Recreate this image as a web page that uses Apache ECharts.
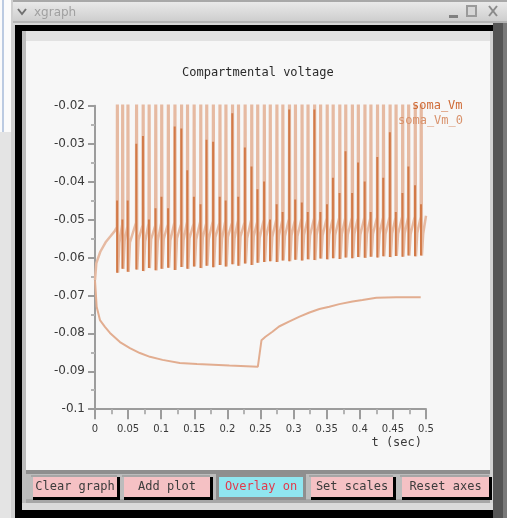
<!DOCTYPE html>
<html><head><meta charset="utf-8">
<script src="https://cdn.jsdelivr.net/npm/echarts@6/dist/echarts.min.js"></script>
<style>html,body{margin:0;padding:0;background:#f7f7f7;overflow:hidden}#c{width:507px;height:518px}</style>
</head><body><div id="c"></div>
<script>
// ---------- data ----------
const chartTitle = 'Compartmental voltage';
const windowTitle = 'xgraph';
const xAxisName = 't (sec)';
const seriesNames = ['soma_Vm', 'soma_Vm_0'];
const buttonLabels = ['Clear graph', 'Add plot', 'Overlay on', 'Set scales', 'Reset axes'];
const xTickLabels = ['0','0.05','0.1','0.15','0.2','0.25','0.3','0.35','0.4','0.45','0.5'];
const yTickLabels = ['-0.1','-0.09','-0.08','-0.07','-0.06','-0.05','-0.04','-0.03','-0.02'];

// initial depolarising rise before spiking (soma_Vm_0)
const riseT = [0, 0.002, 0.008, 0.016, 0.024, 0.030];
const riseV = [-0.066, -0.0615, -0.0585, -0.0560, -0.0543, -0.0530];

// spike onset times (s)
const spikeT = [0.033,0.041,0.049,0.062,0.072,0.081,0.091,0.100,0.110,0.120,
  0.130,0.139,0.149,0.159,0.168,0.178,0.188,0.197,0.207,0.216,
  0.226,0.236,0.245,0.255,0.264,0.274,0.283,0.293,0.302,0.312,
  0.321,0.331,0.340,0.350,0.359,0.369,0.378,0.388,0.397,0.407,
  0.416,0.426,0.435,0.445,0.454,0.464,0.473,0.483,0.492];
// voltage at spike onset (threshold)
const thresholdV = [-0.0520,-0.0512,-0.0518,-0.0508,-0.0515,-0.0510,-0.0516,-0.0509,-0.0513,-0.0507,
  -0.0512,-0.0506,-0.0511,-0.0505,-0.0510,-0.0504,-0.0509,-0.0503,-0.0508,-0.0502,
  -0.0507,-0.0501,-0.0506,-0.0500,-0.0503,-0.0499,-0.0502,-0.0498,-0.0501,-0.0497,
  -0.0500,-0.0496,-0.0499,-0.0496,-0.0498,-0.0495,-0.0497,-0.0495,-0.0496,-0.0494,
  -0.0496,-0.0494,-0.0495,-0.0493,-0.0495,-0.0493,-0.0494,-0.0492,-0.0493];
// after-hyperpolarisation trough
const troughV = [-0.0640,-0.0630,-0.0638,-0.0632,-0.0636,-0.0628,-0.0634,-0.0630,-0.0627,-0.0633,
  -0.0625,-0.0630,-0.0624,-0.0628,-0.0622,-0.0626,-0.0620,-0.0624,-0.0618,-0.0622,
  -0.0616,-0.0620,-0.0614,-0.0612,-0.0610,-0.0612,-0.0608,-0.0610,-0.0606,-0.0608,
  -0.0605,-0.0607,-0.0603,-0.0605,-0.0602,-0.0604,-0.0600,-0.0602,-0.0599,-0.0601,
  -0.0598,-0.0600,-0.0597,-0.0599,-0.0596,-0.0598,-0.0595,-0.0597,-0.0595];
// fast recovery level reached shortly after each trough
const recoveryV = [-0.0562,-0.0556,-0.0560,-0.0553,-0.0558,-0.0552,-0.0557,-0.0551,-0.0555,-0.0550,
  -0.0554,-0.0549,-0.0553,-0.0548,-0.0552,-0.0547,-0.0551,-0.0546,-0.0550,-0.0545,
  -0.0549,-0.0545,-0.0548,-0.0544,-0.0546,-0.0543,-0.0545,-0.0542,-0.0544,-0.0541,
  -0.0543,-0.0540,-0.0542,-0.0540,-0.0541,-0.0539,-0.0540,-0.0539,-0.0540,-0.0538,
  -0.0539,-0.0538,-0.0539,-0.0537,-0.0538,-0.0537,-0.0538,-0.0536,-0.0537];
// spike peak of soma_Vm_0 (goes off the top of the plot)
const spikePeakV = 0.03;
// sampled spike peaks of soma_Vm
const sampledPeakV = [-0.045,-0.050,-0.045,-0.030,-0.028,-0.050,-0.047,-0.044,-0.047,-0.0255,
  -0.026,-0.037,-0.044,-0.046,-0.029,-0.0295,-0.044,-0.045,-0.022,-0.044,
  -0.031,-0.036,-0.042,-0.040,-0.050,-0.046,-0.048,-0.021,-0.0447,-0.0455,
  -0.048,-0.021,-0.048,-0.046,-0.039,-0.043,-0.032,-0.043,-0.035,-0.040,
  -0.048,-0.0335,-0.039,-0.027,-0.048,-0.043,-0.036,-0.041,-0.046];
const endT = 0.5, endV = -0.049;

// hyperpolarised trace (soma_Vm_0, earlier run)
const lowT = [0,0.0025,0.0075,0.015,0.0226,0.0377,0.0527,0.0678,0.083,0.102,0.128,0.154,0.203,0.246,0.2485,
  0.2515,0.2575,0.268,0.278,0.293,0.309,0.324,0.339,0.354,0.369,0.389,0.404,0.425,0.455,0.492];
const lowV = [-0.066,-0.0730,-0.0765,-0.0783,-0.0799,-0.0823,-0.0839,-0.0852,-0.0862,-0.0870,-0.0878,-0.0881,-0.0885,-0.0888,-0.0888,
  -0.0818,-0.0809,-0.0796,-0.0782,-0.0769,-0.0756,-0.0745,-0.0736,-0.0730,-0.0723,-0.0716,-0.0712,-0.0706,-0.0705,-0.0705];

// ---------- build series data ----------
const lightData = riseT.map((t, i) => [t, riseV[i]]);
spikeT.forEach((t, i) => {
  lightData.push([t, thresholdV[i]]);
  lightData.push([t + 0.0007, spikePeakV]);
  lightData.push([t + 0.0018, troughV[i]]);
  lightData.push([t + 0.0038, recoveryV[i]]);
});
lightData.push([endT, endV]);

const darkData = [];
spikeT.forEach((t, i) => {
  darkData.push([t + 0.0004, troughV[i]]);
  darkData.push([t + 0.0004, sampledPeakV[i]]);
  darkData.push([t + 0.0004, '-']);
});

const lowData = lowT.map((t, i) => [t, lowV[i]]);

// ---------- window chrome (graphic) ----------
const MONO = '"DejaVu Sans Mono", monospace';
const g = [];
function rect(x, y, w, h, fill) { g.push({type:'rect', silent:true, z:0, shape:{x, y, width:w, height:h}, style:{fill}}); }
// desktop strip on the left
rect(0, 0, 13, 518, '#e4e4e4');
rect(0, 0, 13, 132, '#fbfbfb');
rect(2, 0, 2, 132, '#bccbe2');
rect(11, 0, 2, 518, '#cfcfcf');
// title bar
g.push({type:'rect', silent:true, shape:{x:13, y:0, width:494, height:23},
  style:{fill:{type:'linear', x:0, y:0, x2:0, y2:1, colorStops:[{offset:0, color:'#ececec'},{offset:1, color:'#cbcbcb'}]}}});
rect(13, 0, 494, 2, '#a8a8a8');
rect(13, 21, 494, 2, '#b4b4b4');
g.push({type:'polyline', silent:true, shape:{points:[[18,9],[22,14],[26,9]]}, style:{stroke:'#707070', lineWidth:2, fill:null}});
g.push({type:'text', silent:true, style:{text:windowTitle, x:34, y:13, font:'12px "DejaVu Sans"', fill:'#a0a0a0', verticalAlign:'middle', textVerticalAlign:'middle'}});
rect(449, 15, 9, 3, '#808080');
g.push({type:'rect', silent:true, shape:{x:467, y:6, width:9, height:10}, style:{fill:'#d6d6d6', stroke:'#9a9a9a', lineWidth:2}});
g.push({type:'line', silent:true, shape:{x1:489, y1:6, x2:497, y2:16}, style:{stroke:'#8a8a8a', lineWidth:2}});
g.push({type:'line', silent:true, shape:{x1:497, y1:6, x2:489, y2:16}, style:{stroke:'#8a8a8a', lineWidth:2}});
// frame
rect(13, 23, 494, 2, '#d6d6d6');
rect(13, 25, 2, 493, '#cfcfcf');
rect(15, 25, 480, 6, '#000000');
rect(15, 25, 7, 493, '#000000');
rect(22, 31, 4, 480, '#bdbdbd');
rect(26, 31, 464, 10, '#e2e2e2');
rect(490, 31, 3, 480, '#d2d2d2');
rect(493, 23, 14, 495, '#555555');
rect(503, 23, 4, 495, '#7a7a7a');
// button bar
rect(26, 470, 464, 4, '#8e8e8e');
rect(26, 474, 464, 25, '#bcbcbc');
rect(26, 499, 464, 4, '#a6a6a6');
rect(22, 503, 471, 7, '#dadada');
rect(15, 510, 478, 8, '#000000');
const btnX = [33, 124, 219, 311, 402];
const btnW = [84, 86, 84, 82, 87];
buttonLabels.forEach((label, i) => {
  const x = btnX[i], w = btnW[i];
  const active = i === 2;
  if (active) {
    rect(x - 3, 474, w + 6, 26, '#8f8f8f');
    rect(x, 477, w, 20, '#90e6f0');
  } else {
    rect(x - 2, 475, w + 2, 2, '#a5a5a5');
    rect(x, 477, w, 20, '#f5c1c4');
    rect(x + w, 477, 3, 23, '#000000');
    rect(x, 497, w + 3, 3, '#000000');
  }
  g.push({type:'text', silent:true, style:{text:label, x:x + w / 2, y:487, font:'12px ' + MONO,
    fill: active ? '#e23a4c' : '#3c3c3c', align:'center', textAlign:'center', verticalAlign:'middle', textVerticalAlign:'middle'}});
});

// ---------- chart ----------
const axisGray = '#9c9c9c';
const chart = echarts.init(document.getElementById('c'), null, {renderer:'canvas'});
chart.setOption({
  animation: false,
  backgroundColor: '#f7f7f7',
  title: {text: chartTitle, left: 182, top: 67, padding: 0,
    textStyle: {fontFamily: MONO, fontSize: 12, fontWeight: 'normal', color: '#2a2a2a'}},
  legend: [
    {data: [{name: seriesNames[0], textStyle: {color: '#cf6b37'}}], left: 407, top: 100, padding: 0,
      icon: 'none', itemWidth: 0, itemHeight: 0, selectedMode: false,
      textStyle: {fontFamily: MONO, fontSize: 12}},
    {data: [{name: seriesNames[1], textStyle: {color: '#d9936d'}}], left: 393, top: 115, padding: 0,
      icon: 'none', itemWidth: 0, itemHeight: 0, selectedMode: false,
      textStyle: {fontFamily: MONO, fontSize: 12}}
  ],
  grid: {left: 95, top: 105.7, width: 331, height: 303.5, containLabel: false},
  xAxis: {
    type: 'value', min: 0, max: 0.5, interval: 0.05,
    name: xAxisName, nameLocation: 'end', nameGap: -4,
    nameTextStyle: {fontFamily: MONO, fontSize: 12, color: '#3a3a3a', align: 'right', verticalAlign: 'top', padding: [28, 0, 0, 0]},
    axisLine: {lineStyle: {color: axisGray, width: 2}},
    axisTick: {length: 10, lineStyle: {color: axisGray, width: 2}},
    minorTick: {show: true, splitNumber: 2, length: 5, lineStyle: {color: '#b4b4b4', width: 2}},
    splitLine: {show: false},
    axisLabel: {margin: 15, color: '#3a3a3a', fontFamily: '"DejaVu Sans"', fontSize: 10,
      formatter: (v, i) => xTickLabels[i]}
  },
  yAxis: {
    type: 'value', min: -0.1, max: -0.02, interval: 0.01,
    axisLine: {show: true, lineStyle: {color: axisGray, width: 2}},
    axisTick: {show: true, length: 7, lineStyle: {color: axisGray, width: 2}},
    minorTick: {show: true, splitNumber: 2, length: 4, lineStyle: {color: '#b4b4b4', width: 2}},
    splitLine: {show: false},
    axisLabel: {margin: 10, color: '#3a3a3a', fontFamily: '"DejaVu Sans"', fontSize: 12,
      formatter: (v, i) => yTickLabels[i]}
  },
  series: [
    {name: seriesNames[1], type: 'line', data: lowData, showSymbol: false, symbol: 'none', z: 2,
      lineStyle: {color: '#e2ad90', width: 2}, itemStyle: {color: '#e2ad90'}},
    {name: seriesNames[1], type: 'line', data: lightData, showSymbol: false, symbol: 'none', z: 3,
      lineStyle: {color: '#e6baa2', width: 2.5}, itemStyle: {color: '#e6baa2'}},
    {name: seriesNames[0], type: 'line', data: darkData, showSymbol: false, symbol: 'none', z: 4,
      connectNulls: false,
      lineStyle: {color: '#d27a48', width: 2}, itemStyle: {color: '#d27a48'}}
  ],
  graphic: g
});
</script>
</body></html>
